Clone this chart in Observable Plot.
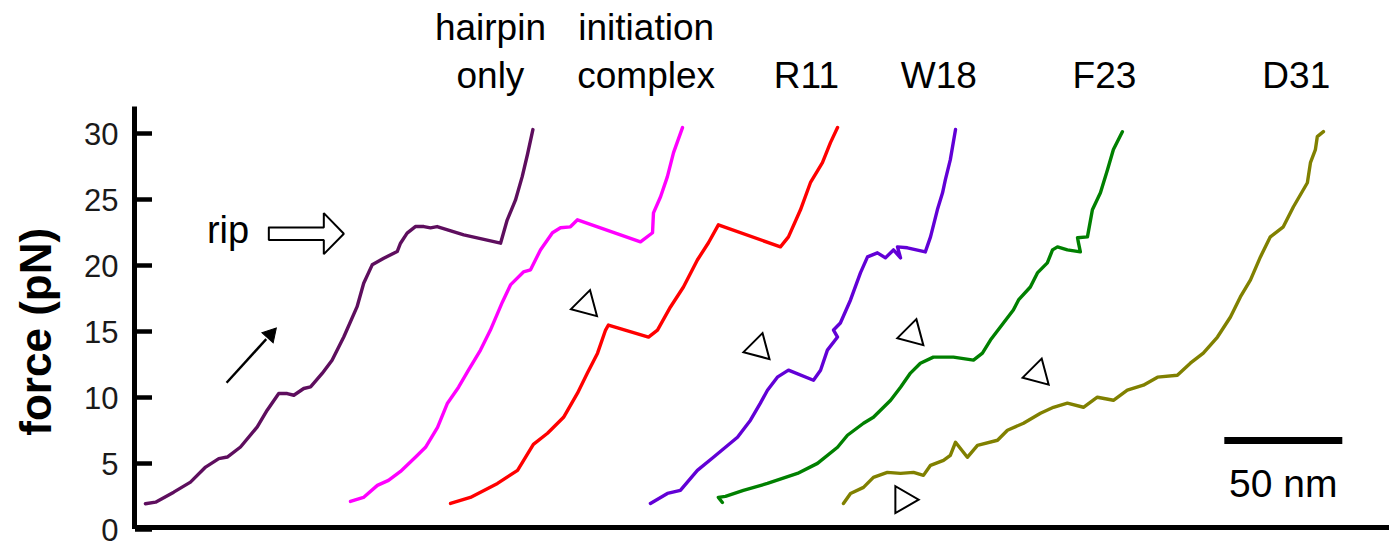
<!DOCTYPE html>
<html>
<head>
<meta charset="utf-8">
<script src="https://cdn.jsdelivr.net/npm/d3@7"></script>
<script src="https://cdn.jsdelivr.net/npm/@observablehq/plot@0.6"></script>
<style>
  html, body { margin: 0; padding: 0; background: #fff; }
  #chart svg { display: block; }
</style>
</head>
<body>
<div id="chart"></div>
<script>
// ---- Data: extension (nm) vs force (pN) ----
const seriesNames = ["hairpin only", "initiation complex", "R11", "W18", "F23", "D31"];
const seriesColors = ["#5e0e5e", "#ff00ff", "#ff0000", "#6200d6", "#008000", "#808000"];

const hairpinOnly = [[4.2,1.95],[8.5,2.07],[16.2,2.83],[23.3,3.59],[29.7,4.73],[35.3,5.37],[38.9,5.49],[44.5,6.25],[51.6,7.77],[55.8,9.04],[60.7,10.30],[64.3,10.30],[67.1,10.17],[71.3,10.68],[74.2,10.80],[79.1,11.82],[83.3,12.83],[88.3,14.60],[93.9,16.88],[96.7,18.66],[100.3,20.05],[105.2,20.55],[110.9,21.06],[112.3,21.69],[115.1,22.45],[118.6,22.95],[122.2,22.95],[125.0,22.85],[127.8,22.95],[139.1,22.32],[154.7,21.69],[157.5,23.44],[161.0,24.95],[163.9,26.75],[166.1,28.41],[168.4,30.30]];

const initiationComplex = [[91.1,2.13],[96.6,2.43],[102.5,3.34],[107.2,3.72],[112.3,4.40],[118.6,5.47],[122.9,6.23],[128.0,7.74],[132.2,9.57],[136.9,10.78],[141.1,12.07],[146.2,13.59],[150.4,15.11],[155.5,17.24],[158.9,18.53],[164.4,19.51],[167.4,19.67],[171.6,21.18],[176.7,22.48],[180.1,22.86],[184.3,22.93],[187.3,23.46],[214.0,21.79],[219.1,22.48],[219.5,23.99],[222.5,25.21],[225.4,26.73],[228.0,28.55],[231.8,30.45]];

const r11 = [[133.5,1.97],[141.9,2.43],[153.4,3.49],[161.9,4.48],[168.6,6.45],[174.6,7.29],[181.4,8.50],[187.3,10.33],[191.5,11.85],[195.8,13.36],[199.2,15.11],[200.4,15.49],[217.4,14.58],[221.2,15.11],[226.7,16.86],[232.2,18.37],[238.1,20.42],[242.8,21.72],[247.0,23.08],[273.3,21.41],[276.7,22.17],[281.8,24.22],[286.0,26.27],[291.1,27.79],[294.5,29.31],[297.5,30.45]];

const w18 = [[218.2,1.97],[225.4,2.73],[230.9,2.96],[238.1,4.48],[244.9,5.47],[255.1,6.99],[260.6,8.28],[264.8,9.57],[267.8,10.55],[272.0,11.54],[276.7,12.07],[287.3,11.31],[290.3,12.07],[293.2,13.59],[297.5,14.58],[295.8,15.11],[298.7,15.64],[303.0,17.39],[307.2,19.44],[310.2,20.65],[314.4,20.96],[317.8,20.58],[321.2,21.18],[324.2,20.58],[322.9,21.41],[327.1,21.34],[334.7,21.03],[336.9,22.17],[339.8,24.22],[342.0,25.51],[343.2,26.50],[345.3,28.02],[347.5,30.30]];

const f23 = [[248.7,2.05],[247.0,2.43],[250.0,2.51],[257.6,2.96],[267.8,3.49],[280.5,4.25],[289.0,5.01],[297.5,6.23],[301.7,7.14],[308.5,8.05],[312.7,8.50],[320.0,9.79],[324.2,10.78],[328.4,11.85],[332.6,12.60],[338.1,13.06],[346.6,13.06],[355.1,12.83],[358.9,13.36],[362.3,14.35],[366.5,15.34],[372.0,16.63],[374.2,17.39],[379.2,18.37],[382.2,19.44],[386.4,20.20],[388.6,21.18],[390.7,21.41],[394.9,21.18],[400.4,21.03],[399.6,21.72],[399.2,22.10],[403.4,22.17],[405.5,24.22],[408.9,25.51],[411.9,27.26],[414.4,28.78],[418.2,30.14]];

const d31 = [[300.0,1.97],[303.0,2.73],[308.5,3.19],[312.7,3.95],[318.6,4.33],[324.2,4.25],[329.7,4.33],[333.9,4.10],[336.9,4.86],[342.4,5.24],[345.3,5.62],[347.5,6.61],[352.5,5.47],[356.8,6.38],[365.3,6.76],[369.5,7.52],[376.3,8.05],[383.5,8.81],[389.0,9.26],[394.9,9.57],[401.7,9.26],[407.6,10.02],[414.4,9.79],[420.3,10.55],[427.1,10.93],[433.1,11.54],[441.5,11.69],[447.0,12.60],[452.5,13.36],[458.5,14.58],[464.0,16.10],[468.2,17.62],[472.5,18.91],[476.7,20.65],[480.9,22.17],[486.4,22.93],[490.7,24.45],[496.6,26.27],[497.9,27.79],[500.0,28.78],[500.8,29.76],[503.4,30.14]];

const seriesData = [hairpinOnly, initiationComplex, r11, w18, f23, d31];

// Axis ticks
const yTicks = [0, 5, 10, 15, 20, 25, 30];

// Curve labels (above the plot)
const labelTopText = ["hairpin", "initiation"];
const labelTopX = [150.4, 216.4];
const labelBottomText = ["only", "complex", "R11", "W18", "F23", "D31"];
const labelBottomX = [150.4, 216.4, 284.3, 340.4, 410.6, 491.9];
const labelTopY = 37.1;
const labelBottomY = 33.48;

// Open triangle markers (x nm, force pN, rotation deg)
const markerX = [190.9, 264.0, 329.2, 382.3, 325.3];
const markerY = [17.0, 13.74, 14.80, 11.81, 2.26];
const markerRotate = [15, 15, 15, 15, 90];

// Pulling-direction arrow
const pullArrow = {x1: 38.6, y1: 11.12, x2: 55.4, y2: 14.42, headX: 57.2, headY: 14.77, headRotate: 42};

// "rip" label and open block arrow outline
const ripLabel = {text: "rip", x: 39.2, y: 21.72};
const ripArrowX = [56.5, 79.8, 79.8, 88.3, 79.8, 79.8, 56.5, 56.5];
const ripArrowY = [22.88, 22.88, 23.97, 22.40, 20.86, 21.94, 21.94, 22.88];

// Scale bar
const scaleBar = {x: 461.4, length: 50, y: 6.74, label: "50 nm", labelY: 2.45};

// Axis title
const yTitle = {text: "force (pN)", x: -41.7, y: 14.98};

// ---- Build tables ----
const rows = seriesData.flatMap((pts, i) => pts.map(([x, y]) => ({series: seriesNames[i], x, y})));
const markers = markerX.map((x, i) => ({x, y: markerY[i], r: markerRotate[i]}));
const ripArrow = ripArrowX.map((x, i) => ({x, y: ripArrowY[i]}));
const topLabels = labelTopText.map((t, i) => ({t, x: labelTopX[i], y: labelTopY}));
const bottomLabels = labelBottomText.map((t, i) => ({t, x: labelBottomX[i], y: labelBottomY}));
const tickRows = yTicks.map(v => ({v, x: -7.2}));

const font = "'Liberation Sans', Arial, Helvetica, sans-serif";

const chart = Plot.plot({
  width: 1389,
  height: 549,
  marginLeft: 135,
  marginRight: 0,
  marginTop: 133,
  marginBottom: 20,
  style: {fontFamily: font, background: "#fff", overflow: "visible"},
  x: {domain: [0, 531.4], axis: null},
  y: {domain: [0, 30], axis: null},
  color: {domain: seriesNames, range: seriesColors},
  marks: [
    // axes
    Plot.ruleY([0], {stroke: "#000", strokeWidth: 5, dy: -2}),
    Plot.ruleX([0], {y1: 0, y2: 32, stroke: "#000", strokeWidth: 5, dx: -1}),
    Plot.ruleY(yTicks, {x1: 0, x2: 7.2, stroke: "#000", strokeWidth: 4.5}),
    Plot.text(tickRows, {x: "x", y: "v", text: d => String(d.v), textAnchor: "end", fontSize: 31, fill: "#1a1a1a", dy: 2}),
    Plot.text([yTitle], {x: "x", y: "y", text: "text", rotate: -90, fontSize: 44, fontWeight: "bold", fill: "#000"}),
    // curves
    Plot.line(rows, {x: "x", y: "y", z: "series", stroke: "series", strokeWidth: 3.4, strokeLinejoin: "round", strokeLinecap: "round"}),
    // labels
    Plot.text(topLabels, {x: "x", y: "y", text: "t", fontSize: 37, lineAnchor: "bottom", fill: "#000"}),
    Plot.text(bottomLabels, {x: "x", y: "y", text: "t", fontSize: 37, lineAnchor: "bottom", fill: "#000"}),
    // triangles
    Plot.dot(markers, {x: "x", y: "y", rotate: "r", symbol: "triangle", r: 10, stroke: "#000", strokeWidth: 2, fill: "#fff"}),
    // pull arrow
    Plot.link([pullArrow], {x1: "x1", y1: "y1", x2: "x2", y2: "y2", stroke: "#000", strokeWidth: 2.4}),
    Plot.dot([pullArrow], {x: "headX", y: "headY", rotate: "headRotate", symbol: "triangle", r: 5.6, fill: "#000", stroke: "#000", strokeWidth: 1}),
    // rip
    Plot.text([ripLabel], {x: "x", y: "y", text: "text", fontSize: 38, lineAnchor: "bottom", fill: "#000"}),
    Plot.line(ripArrow, {x: "x", y: "y", stroke: "#000", strokeWidth: 2, strokeLinejoin: "miter"}),
    // scale bar
    Plot.link([scaleBar], {x1: "x", x2: d => d.x + d.length, y1: "y", y2: "y", stroke: "#000", strokeWidth: 7}),
    Plot.text([scaleBar], {x: d => d.x + d.length / 2, y: "labelY", text: "label", fontSize: 39, lineAnchor: "bottom", fill: "#000"})
  ]
});

document.getElementById("chart").appendChild(chart);
</script>
</body>
</html>
